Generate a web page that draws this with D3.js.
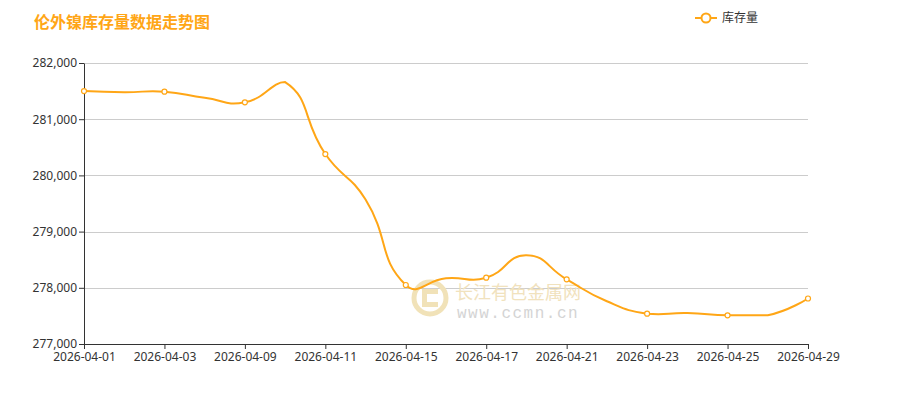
<!DOCTYPE html>
<html>
<head>
<meta charset="utf-8">
<script src="https://cdn.jsdelivr.net/npm/d3@7"></script>
<style>
  html, body { margin: 0; padding: 0; background: #fff; }
  svg { display: block; font-family: "Noto Sans CJK SC", "Noto Sans", sans-serif; }
</style>
</head>
<body>
<svg id="chart" width="919" height="399"></svg>
<script>
const dates = [
  "2026-04-01", "2026-04-02", "2026-04-03", "2026-04-08", "2026-04-09",
  "2026-04-10", "2026-04-11", "2026-04-14", "2026-04-15", "2026-04-16",
  "2026-04-17", "2026-04-20", "2026-04-21", "2026-04-22", "2026-04-23",
  "2026-04-24", "2026-04-25", "2026-04-28", "2026-04-29"
];
const stock = [
  281500, 281480, 281490, 281380, 281300,
  281660, 280380, 279570, 278050, 278170,
  278180, 278580, 278150, 277760, 277540,
  277550, 277510, 277510, 277810
];
const yTicks = [277000, 278000, 279000, 280000, 281000, 282000];
const title = "伦外镍库存量数据走势图";
const seriesName = "库存量";

const orange = "#ffa616";
const svg = d3.select("#chart");

const x = d3.scalePoint().domain(dates).range([84, 808]);
const y = d3.scaleLinear().domain([277000, 282000]).range([344, 63]);

// smoothing the same way the original chart library does (bezier, clamped to the points' box)
function smoothCurve(context) {
  let pts;
  return {
    areaStart() {}, areaEnd() {},
    lineStart() { pts = []; },
    point(px, py) { pts.push([+px, +py]); },
    lineEnd() {
      const s = 0.5;
      const lo = [d3.min(pts, p => p[0]), d3.min(pts, p => p[1])];
      const hi = [d3.max(pts, p => p[0]), d3.max(pts, p => p[1])];
      const clamp = p => [Math.min(Math.max(p[0], lo[0]), hi[0]), Math.min(Math.max(p[1], lo[1]), hi[1])];
      let cp0 = pts[0];
      context.moveTo(pts[0][0], pts[0][1]);
      for (let i = 1; i < pts.length; i++) {
        const p = pts[i], prev = pts[i - 1], next = pts[i + 1];
        let cp1 = p, ratio = 0.5, v = [0, 0];
        if (next) {
          v = [next[0] - prev[0], next[1] - prev[1]];
          const l0 = Math.hypot(p[0] - prev[0], p[1] - prev[1]);
          const l1 = Math.hypot(next[0] - p[0], next[1] - p[1]);
          ratio = l1 / (l0 + l1);
          cp1 = [p[0] - v[0] * s * (1 - ratio), p[1] - v[1] * s * (1 - ratio)];
        }
        cp0 = clamp(cp0); cp1 = clamp(cp1);
        context.bezierCurveTo(cp0[0], cp0[1], cp1[0], cp1[1], p[0], p[1]);
        cp0 = [p[0] + v[0] * s * ratio, p[1] + v[1] * s * ratio];
      }
    }
  };
}

// title
svg.append("text")
  .attr("x", 34).attr("y", 28)
  .attr("fill", orange)
  .attr("font-size", 16).attr("font-weight", "bold")
  .text(title);

// legend
const legend = svg.append("g").attr("transform", "translate(695,18)");
legend.append("line").attr("x1", 0).attr("x2", 22).attr("y1", 0).attr("y2", 0)
  .attr("stroke", orange).attr("stroke-width", 2);
legend.append("circle").attr("cx", 11).attr("cy", 0).attr("r", 4.5)
  .attr("fill", "#fff").attr("stroke", orange).attr("stroke-width", 2);
legend.append("text").attr("x", 27).attr("y", 4)
  .attr("font-size", 12).attr("fill", "#333").text(seriesName);

// gridlines
svg.append("g").selectAll("line").data(yTicks).join("line")
  .attr("x1", 84).attr("x2", 808)
  .attr("y1", d => Math.round(y(d)) + 0.5).attr("y2", d => Math.round(y(d)) + 0.5)
  .attr("stroke", "#ccc");

// watermark
const wm = svg.append("g").attr("transform", "translate(430,298)");
wm.append("circle").attr("r", 16).attr("fill", "none").attr("stroke", "#f1e2b8").attr("stroke-width", 5);
wm.append("path")
  .attr("d", "M8,-9 H-8 V9 H8 V4 H-3 V-4 H8 Z")
  .attr("fill", "#f1e2b8");
svg.append("text").attr("x", 455).attr("y", 299)
  .attr("font-size", 18).attr("fill", "#f1e2bd").text("长江有色金属网");
svg.append("text").attr("x", 457).attr("y", 318)
  .attr("font-family", "Liberation Mono, DejaVu Sans Mono, monospace")
  .attr("font-size", 16).attr("letter-spacing", 1.5).attr("fill", "#d4d4d4").text("www.ccmn.cn");

// axes
const yAxis = svg.append("g").attr("transform", "translate(84,0)")
  .call(d3.axisLeft(y).tickValues(yTicks).tickFormat(d3.format(",")).tickSize(5).tickSizeOuter(0));
const xAxis = svg.append("g").attr("transform", "translate(0,344)")
  .call(d3.axisBottom(x).tickValues(dates.filter((d, i) => i % 2 === 0)).tickSize(5).tickSizeOuter(0));
[yAxis, xAxis].forEach(a => {
  a.select(".domain").attr("stroke", "#333");
  a.selectAll(".tick line").attr("stroke", "#333");
  a.selectAll(".tick text").attr("fill", "#333").attr("font-size", 12)
    .attr("font-family", "\"Noto Sans\", sans-serif");
});
yAxis.selectAll(".tick text").attr("x", -7);
xAxis.selectAll(".tick text").attr("y", 8);

// line
const line = d3.line()
  .x((d, i) => x(dates[i]))
  .y(d => y(d))
  .curve(smoothCurve);
svg.append("path").datum(stock)
  .attr("d", line)
  .attr("fill", "none")
  .attr("stroke", orange)
  .attr("stroke-width", 2);

// markers on labelled points
svg.append("g").selectAll("circle")
  .data(stock.map((v, i) => ({ date: dates[i], v })).filter((d, i) => i % 2 === 0))
  .join("circle")
  .attr("cx", d => x(d.date)).attr("cy", d => y(d.v)).attr("r", 2.5)
  .attr("fill", "#fff").attr("stroke", orange).attr("stroke-width", 1.2);
</script>
</body>
</html>
